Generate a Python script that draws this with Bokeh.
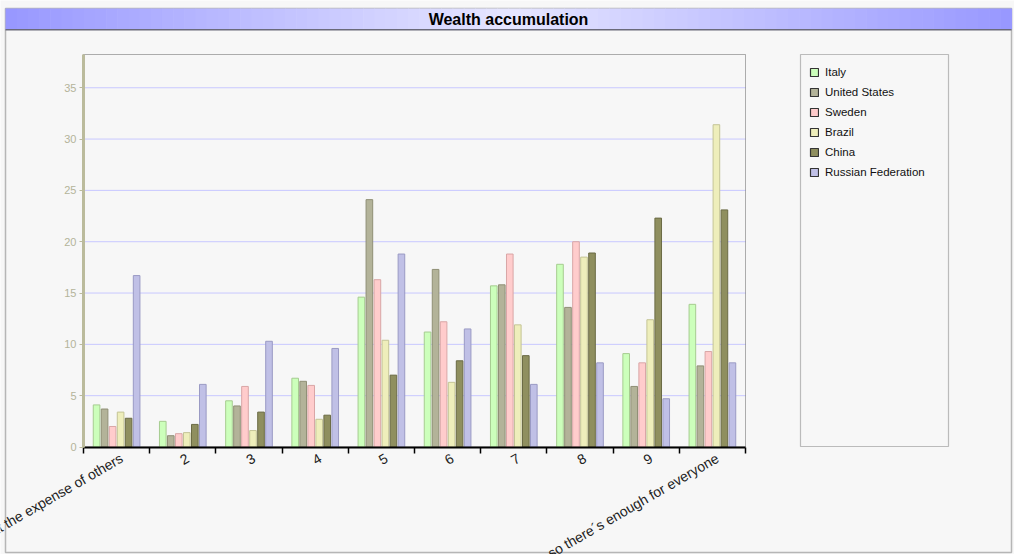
import math
from bokeh.plotting import figure
from bokeh.models import (Range1d, FixedTicker, BoxAnnotation, Label,
                          Legend, LegendItem, LinearAxis)
from bokeh.core.properties import value
from bokeh.embed import file_html
from bokeh.resources import INLINE

# ---------------- data ----------------
categories = ["People can only get rich at the expense of others", "2", "3", "4", "5",
              "6", "7", "8", "9", "Wealth can grow so there\u00b4s enough for everyone"]
countries = ["Italy", "United States", "Sweden", "Brazil", "China", "Russian Federation"]
italy = [4.1, 2.5, 4.5, 6.7, 14.6, 11.2, 15.7, 17.8, 9.1, 13.9]
united_states = [3.7, 1.1, 4.0, 6.4, 24.1, 17.3, 15.8, 13.6, 5.9, 7.9]
sweden = [2.0, 1.3, 5.9, 6.0, 16.3, 12.2, 18.8, 20.0, 8.2, 9.3]
brazil = [3.4, 1.4, 1.6, 2.7, 10.4, 6.3, 11.9, 18.5, 12.4, 31.4]
china = [2.8, 2.2, 3.4, 3.1, 7.0, 8.4, 8.9, 18.9, 22.3, 23.1]
russia = [16.7, 6.1, 10.3, 9.6, 18.8, 11.5, 6.1, 8.2, 4.7, 8.2]
y_ticks = [0, 5, 10, 15, 20, 25, 30, 35]
title_text = "Wealth accumulation"

series = [italy, united_states, sweden, brazil, china, russia]
fills = ["#ccffbb", "#b3b399", "#ffcccc", "#eeeebb", "#8f8f5f", "#c0c0e6"]
lines = ["#a6cc90", "#8f8f75", "#d9a6a6", "#c4c496", "#6b6b45", "#9a9ac4"]

# ---------------- layout (pixels) ----------------
W, H = 1014, 554
PL, PR, PT, PB = 83, 745, 54, 446.5      # plot area in canvas pixels
Y_TOP = 38.24                             # value at the top of the plot area
ncat = len(categories)
kx = ncat / (PR - PL)
ky = Y_TOP / (PB - PT)
BG = "#f7f7f7"

p = figure(width=W, height=H, output_backend="svg", toolbar_location=None,
           x_range=Range1d(-PL * kx, ncat + (W - PR) * kx),
           y_range=Range1d(-(H - PB) * ky, Y_TOP + PT * ky),
           x_axis_location=None, y_axis_location=None,
           min_border_left=0, min_border_right=0, min_border_top=0, min_border_bottom=0)
p.background_fill_color = BG
p.border_fill_color = BG
p.outline_line_color = None
p.xgrid.visible = False
p.ygrid.visible = False

def canvas_box(l, r, t, b, **kw):
    return BoxAnnotation(left=l, right=r, top=t, bottom=b,
                         left_units="canvas", right_units="canvas",
                         top_units="canvas", bottom_units="canvas", **kw)

# outer frame + title bar
p.add_layout(canvas_box(5, 1011, 8, 552, fill_color=None, line_color="#222222",
                        line_width=1.5, level="underlay"))
strips = 90
x0, x1 = 5, 1011
for i in range(strips):
    t = abs((i + 0.5) / strips - 0.5) * 2
    c = int(0xe6 + (0x98 - 0xe6) * t)
    col = "#%02x%02x%02x" % (c, c, 0xff)
    p.add_layout(canvas_box(x0 + (x1 - x0) * i / strips, x0 + (x1 - x0) * (i + 1) / strips + 0.6,
                            8, 29, fill_color=col, fill_alpha=1, line_color=None,
                            level="underlay"))
p.add_layout(canvas_box(5, 1011, 28.5, 30, fill_color="#6a6a7a", fill_alpha=1,
                        line_color=None, level="underlay"))
p.add_layout(Label(x=508, y=19, x_units="canvas", y_units="canvas", text=title_text,
                   text_align="center", text_baseline="middle",
                   text_font="Liberation Sans", text_font_style="bold",
                   text_font_size="16px", text_color="black"))

# grid lines
grid_y = y_ticks[1:]
p.segment(x0=[0] * len(grid_y), x1=[ncat] * len(grid_y), y0=grid_y, y1=grid_y,
          line_color="#c8c8ff", line_width=1, level="underlay")

# plot-area box
p.add_layout(canvas_box(PL, PR, PT, PB, fill_color=None, line_color="black",
                        line_width=1, level="underlay"))

# ---------------- bars ----------------
n = len(series)
pitch = 0.121
bar_w = 0.1
centers = [i + 0.5 for i in range(ncat)]
for k, (vals, fc, lc) in enumerate(zip(series, fills, lines)):
    xs = [c + (k - (n - 1) / 2) * pitch for c in centers]
    p.vbar(x=xs, top=vals, bottom=0, width=bar_w, fill_color=fc, line_color=lc, line_width=1)

# ---------------- axes ----------------
xa = LinearAxis(fixed_location=0, bounds=(0, ncat),
                ticker=FixedTicker(ticks=list(range(ncat + 1))))
xa.major_label_text_font_size = "0px"
xa.axis_line_color = "black"
xa.axis_line_width = 2
xa.major_tick_out = 6
xa.major_tick_in = 0
xa.major_tick_line_color = "black"
xa.major_tick_line_width = 1.5
xa.minor_tick_line_color = None
p.add_layout(xa, "below")

# category labels: rotated, right end just below the group centre
p.text(x=centers, y=[0] * ncat, text=categories, angle=math.pi / 6,
       text_align="right", text_baseline="middle", x_offset=5, y_offset=10,
       text_font=value("Liberation Sans"), text_font_size="14px", text_color="#222222")

ya = LinearAxis(fixed_location=0, bounds=(0, Y_TOP), ticker=FixedTicker(ticks=y_ticks))
ya.axis_line_color = "#bbbb9c"
ya.axis_line_width = 3
ya.major_tick_out = 4
ya.major_tick_in = 0
ya.major_tick_line_color = "#bbbb9c"
ya.minor_tick_line_color = None
ya.major_label_text_color = "#b4b49a"
ya.major_label_text_font = "Liberation Sans"
ya.major_label_text_font_size = "11px"
ya.major_label_standoff = 3
p.add_layout(ya, "left")

# ---------------- legend ----------------
p.add_layout(canvas_box(800, 948, 54, 446, fill_color=None, line_color="#333333",
                        line_width=1.2, level="underlay"))
items = []
for name, fc in zip(countries, fills):
    r = p.vbar(x=[float("nan")], top=[float("nan")], width=0.1,
               fill_color=fc, line_color="#333333", line_width=1.2)
    items.append(LegendItem(label=name, renderers=[r]))
legend = Legend(items=items, location=(809, H - 62 - 120), border_line_color=None,
                background_fill_alpha=0, padding=0, margin=0, spacing=0,
                label_height=20, glyph_height=10, glyph_width=10, label_standoff=6,
                label_text_font="Liberation Sans", label_text_font_size="11.5px",
                label_text_color="#111111")
p.add_layout(legend, "center")

open("out.html", "w").write(file_html(p, INLINE))
